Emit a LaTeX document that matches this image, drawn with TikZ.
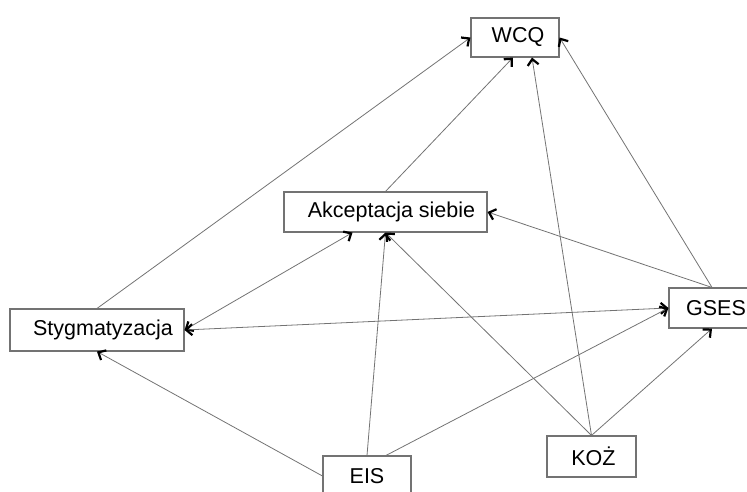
\documentclass[tikz,border=0pt]{standalone}
\usepackage{fontspec}
\setmainfont{Liberation Sans}
\usetikzlibrary{arrows.meta,calc}
\begin{document}
\begin{tikzpicture}[x=1pt,y=-1pt,
  box/.style={draw=black!55,line width=1.1pt,fill=white,inner sep=0pt,
    font=\fontsize{21.5}{26}\selectfont},
  link/.style={draw=black!55,line width=0.8pt},
  head/.tip={Straight Barb[length=6pt,width=11pt,line width=2.2pt,color=black]},
  tip/.style={-head},
  both/.style={head-head}]
\useasboundingbox (0,0) rectangle (747,492);
\clip (0,0) rectangle (747,492);

% variables
\node[box,minimum width=88pt,minimum height=39pt] (wcq) at (515,37.5) {\hspace*{6pt}WCQ};
\node[box,minimum width=203pt,minimum height=40pt] (akc) at (385.5,212) {\hspace*{12pt}Akceptacja siebie};
\node[box,minimum width=174pt,minimum height=42pt] (sty) at (97,330) {\hspace*{12pt}Stygmatyzacja};
\node[box,minimum width=106pt,minimum height=40pt] (gses) at (722,308) {\hspace*{-12pt}GSES};
\node[box,minimum width=88pt,minimum height=40pt] (eis) at (367,476) {EIS};
\node[box,minimum width=89pt,minimum height=41pt] (koz) at (591.5,456.5) {\hspace*{4pt}KOŻ};

% paths
\draw[link,tip] (sty.north) -- (wcq.west);
\draw[link,tip] (akc.north) -- ([xshift=-2pt]wcq.south);
\draw[link,tip] (koz.north) -- ([xshift=17pt]wcq.south);
\draw[link,tip] ([xshift=-10pt]gses.north) -- (wcq.east);
\draw[link,tip] ([xshift=-10pt]gses.north) -- (akc.east);
\draw[link,both] ([xshift=-33pt]akc.south) -- (sty.east);
\draw[link,both] (gses.west) -- (sty.east);
\draw[link,tip] (eis.west) -- (sty.south);
\draw[link,tip] (eis.north) -- (akc.south);
\draw[link,tip] (koz.north) -- (akc.south);
\draw[link,tip] ([xshift=19pt]eis.north) -- (gses.west);
\draw[link,tip] (koz.north) -- ([xshift=-10pt]gses.south);
\end{tikzpicture}
\end{document}
